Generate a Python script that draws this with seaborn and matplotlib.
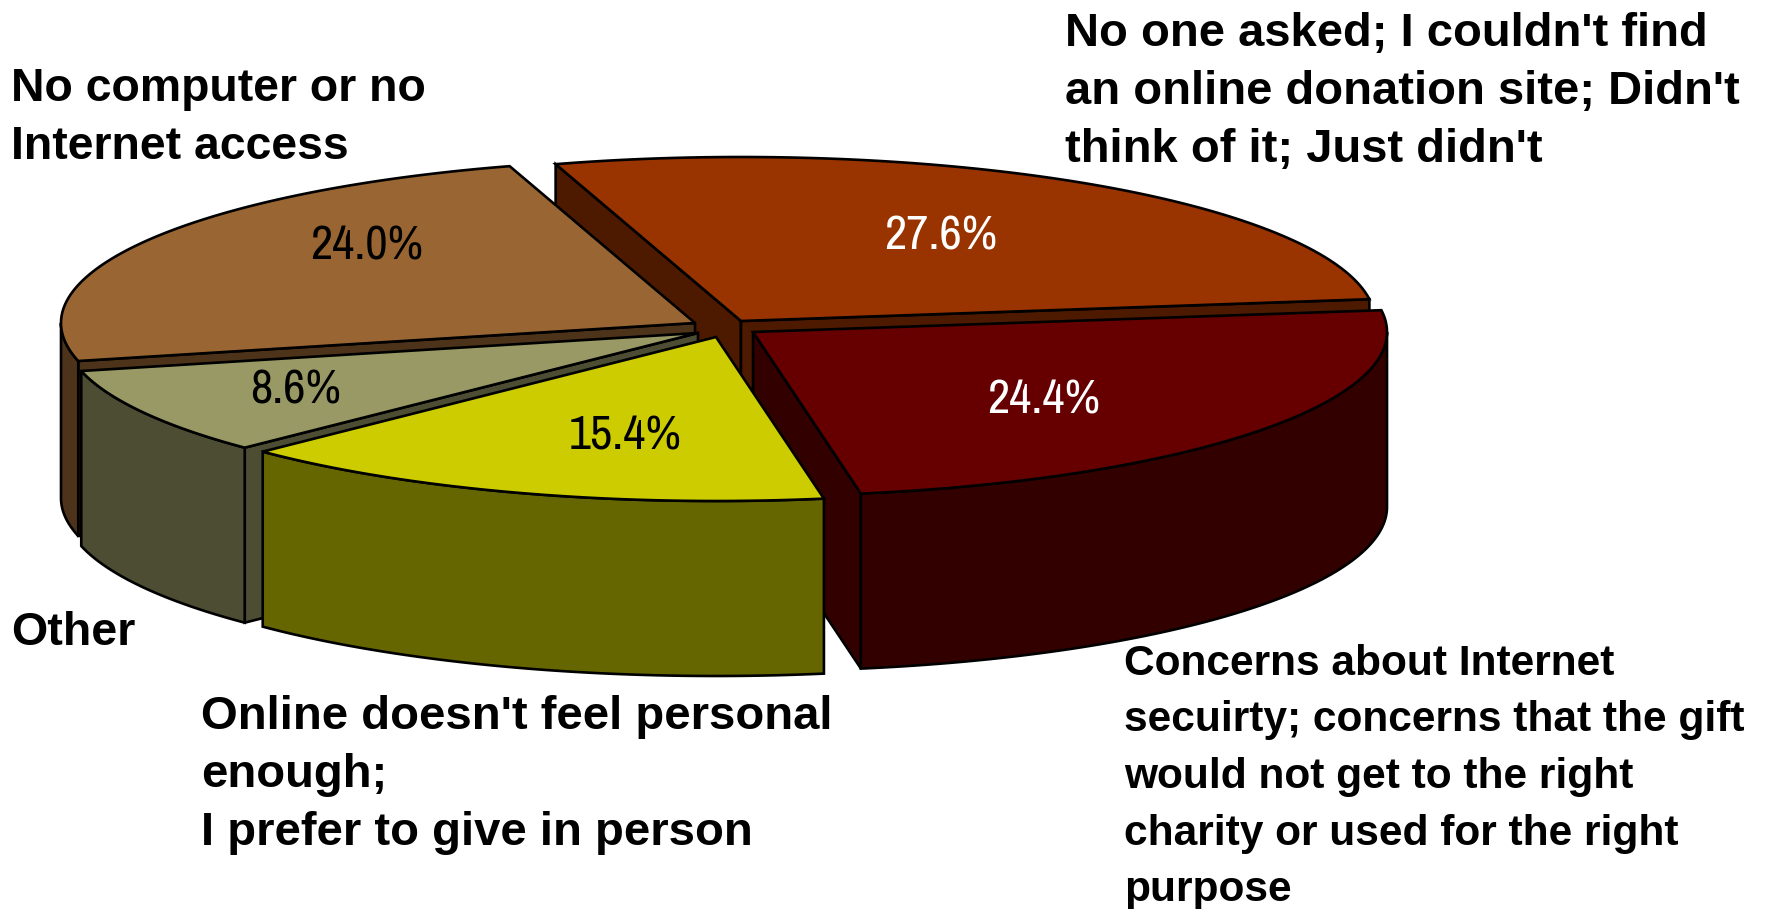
import logging
import numpy as np
import matplotlib
matplotlib.use("Agg")
import matplotlib.pyplot as plt
import seaborn as sns

logging.getLogger("matplotlib.font_manager").setLevel(logging.ERROR)

# Survey shares, listed clockwise from the first slice
shares = [27.6, 24.4, 15.4, 8.6, 24.0]
slice_colors = ["#993300", "#660000", "#CCCC00", "#999966", "#996633"]
value_text_colors = ["white", "white", "black", "black", "black"]

# Category captions: (text, left edge, first baseline, line step, font size)
captions = [
    ("No one asked; I couldn't find\nan online donation site; Didn't\nthink of it; Just didn't", 1065, 46, 58, 33.9),
    ("Concerns about Internet\nsecuirty; concerns that the gift\nwould not get to the right\ncharity or used for the right\npurpose", 1124, 675, 56.5, 30.6),
    ("Online doesn't feel personal\nenough;\nI prefer to give in person", 201, 729, 58, 34.0),
    ("Other", 11, 645, 58, 33.5),
    ("No computer or no\nInternet access", 11, 101, 58, 33.4),
]

# Pie geometry in canvas pixels
START_ANGLE = -17.0
RADIUS_X, RADIUS_Y = 634.0, 164.0
DEPTH = 175.0
apexes = [(741, 321), (753, 332), (716, 337), (698, 333), (695, 323)]
value_positions = [(941, 236), (1044, 400), (625, 436), (296, 390), (367, 246)]
paint_order = [0, 4, 3, 1, 2]

sns.set_theme(style="white")
palette = sns.color_palette(slice_colors)

fig = plt.figure(figsize=(17.67, 9.09), dpi=100, facecolor="white")
ax = fig.add_axes([0, 0, 1, 1])
ax.set_xlim(0, 1767)
ax.set_ylim(909, 0)
ax.axis("off")

spans = np.array(shares) / sum(shares) * 360.0
starts = START_ANGLE + np.concatenate([[0], np.cumsum(spans)[:-1]])


def rim(apex, angles):
    rad = np.radians(angles)
    return np.column_stack([apex[0] + RADIUS_X * np.sin(rad),
                            apex[1] - RADIUS_Y * np.cos(rad)])


def face(points, color):
    ax.fill(points[:, 0], points[:, 1], facecolor=color, edgecolor="black",
            linewidth=1.9, joinstyle="miter", closed=True)


drop = np.array([0.0, DEPTH])
for i in paint_order:
    apex = np.array(apexes[i], dtype=float)
    top = np.array(palette[i])
    wall = top * 0.5
    a0, a1 = starts[i], starts[i] + spans[i]

    # Radial walls, only those turned towards the viewer
    for angle, normal in ((a0, a0 - 90.0), (a1, a1 + 90.0)):
        if np.cos(np.radians(normal - 180.0)) > 0:
            edge = rim(apex, [angle])[0]
            face(np.array([apex, edge, edge + drop, apex + drop]), wall)

    # Outer wall: only the part of the rim that faces the viewer
    lo, hi = max(a0, 90.0), min(a1, 270.0)
    if lo < hi:
        arc = rim(apex, np.linspace(lo, hi, 80))
        face(np.vstack([arc, arc[::-1] + drop]), wall)

    arc = rim(apex, np.linspace(a0, a1, 160))
    face(np.vstack([apex, arc]), top)

# Percentages on the slices
narrow = ["Pragati Narrow", "PT Sans Narrow", "Archivo Narrow", "Liberation Sans"]
for value, pos, color in zip(shares, value_positions, value_text_colors):
    ax.text(pos[0], pos[1], f"{value:.1f}%", color=color, fontsize=38,
            family=narrow, ha="center", va="center")

# Category captions, one text per line for exact leading
for text, x, y, step, size in captions:
    for n, line in enumerate(text.split("\n")):
        ax.text(x, y + n * step, line, color="black", fontsize=size,
                family=["Liberation Sans", "DejaVu Sans"], fontweight="bold",
                ha="left", va="baseline")

fig.savefig("out.png", dpi=100, facecolor="white")
